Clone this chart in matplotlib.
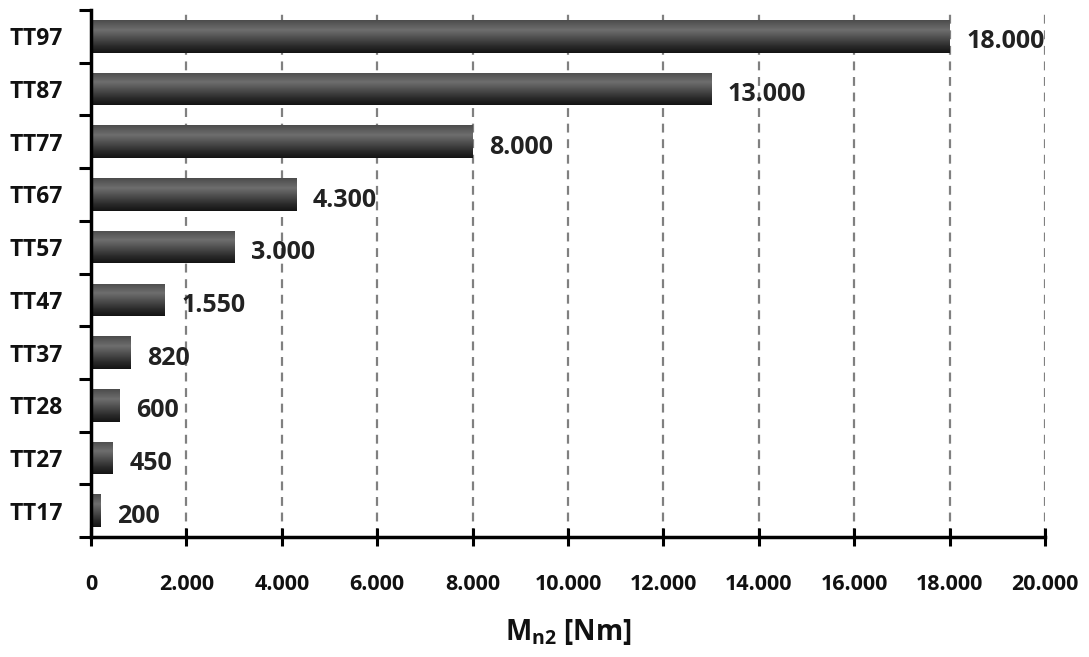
import numpy as np
import matplotlib
matplotlib.use("Agg")
from matplotlib import pyplot as plt
from matplotlib.colors import LinearSegmentedColormap

# data (bottom to top)
models = ["TT17", "TT27", "TT28", "TT37", "TT47", "TT57", "TT67", "TT77", "TT87", "TT97"]
torque = [200, 450, 600, 820, 1550, 3000, 4300, 8000, 13000, 18000]
xticks = list(range(0, 20001, 2000))

plt.rcParams['font.family'] = ['Open Sans', 'DejaVu Sans']
plt.rcParams['font.weight'] = 'bold'
plt.rcParams['mathtext.fontset'] = 'custom'
plt.rcParams['mathtext.rm'] = 'Open Sans:bold'
plt.rcParams['mathtext.it'] = 'Open Sans:bold'
plt.rcParams['mathtext.bf'] = 'Open Sans:bold'

def fmt(v):
    return f"{v:,}".replace(",", ".")

fig = plt.figure(figsize=(10.89, 6.57), dpi=100)
ax = fig.add_axes([91 / 1089, 1 - 537 / 657, (1045 - 91) / 1089, (537 - 10) / 657])

ypos = np.arange(len(models))
bar_h = 0.62
bars = ax.barh(ypos, torque, height=bar_h, color='#3a3a3a', zorder=2)

# vertical shading inside each bar: grey top, lighter band, dark bottom
cmap = LinearSegmentedColormap.from_list(
    "shade", [(0.0, "#4c4c4c"), (0.3, "#6e6e6e"), (0.8, "#2a2a2a"), (1.0, "#141414")])
grad = np.linspace(0, 1, 64).reshape(-1, 1)
for b, y, v in zip(bars, ypos, torque):
    im = ax.imshow(grad, cmap=cmap, aspect='auto', origin='upper',
                   extent=(0, v, y - bar_h / 2, y + bar_h / 2), zorder=3)
    im.set_clip_path(b)

# value labels
for y, v in zip(ypos, torque):
    ax.annotate(fmt(v), xy=(v, y), xytext=(12, -4), textcoords='offset points',
                ha='left', va='center', fontsize=18, fontweight='bold', color='#222222')

ax.set_xlim(0, 20000)
ax.set_ylim(-0.5, len(models) - 0.5)

ax.set_xticks(xticks)
ax.set_xticklabels([fmt(t) for t in xticks], fontsize=15.5, fontweight='bold', color='#111111')
ax.tick_params(axis='x', direction='inout', length=13, width=2.2, pad=20)

# y ticks on the category boundaries, labels at the centres
ax.set_yticks(np.arange(-0.5, len(models), 1.0))
ax.set_yticklabels([])
ax.set_yticks(ypos, minor=True)
ax.set_yticklabels(models, minor=True, fontsize=16.5, fontweight='bold', color='#111111')
ax.tick_params(axis='y', which='major', direction='out', length=9, width=2.2)
ax.tick_params(axis='y', which='minor', length=0, pad=20)

ax.xaxis.grid(True, linestyle=(0, (4, 3)), color='#808080', linewidth=1.6, zorder=0)
ax.set_axisbelow(True)

for s in ['top', 'right']:
    ax.spines[s].set_visible(False)
for s in ['left', 'bottom']:
    ax.spines[s].set_linewidth(2.5)
    ax.spines[s].set_zorder(5)

ax.set_xlabel(r"M$_{\mathrm{n2}}$ [Nm]", fontsize=20, fontweight='bold', labelpad=16, color='#111111')

fig.savefig("out.png", dpi=100)
